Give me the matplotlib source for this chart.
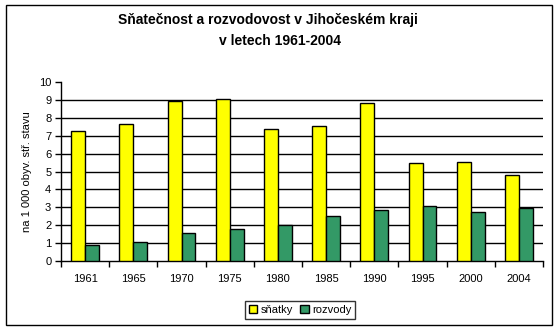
import matplotlib
matplotlib.use("Agg")
import matplotlib.pyplot as plt
from matplotlib.patches import Rectangle
import numpy as np

plt.rcParams["font.family"] = ["Liberation Sans", "DejaVu Sans"]

years = ["1961", "1965", "1970", "1975", "1980", "1985", "1990", "1995", "2000", "2004"]
snatky = [7.26, 7.65, 8.96, 9.05, 7.37, 7.54, 8.83, 5.47, 5.53, 4.80]
rozvody = [0.89, 1.06, 1.56, 1.79, 2.01, 2.51, 2.85, 3.07, 2.74, 2.98]

YELLOW = "#FFFF00"
GREEN = "#339966"

fig = plt.figure(figsize=(5.59, 3.31), dpi=100)
fig.patch.set_facecolor("white")

# rámeček kolem celého grafu
fig.patches.append(Rectangle((6 / 559, 1 - 325 / 331), 546 / 559, 320 / 331,
                             transform=fig.transFigure, fill=False,
                             edgecolor="black", linewidth=1.0))

ax = fig.add_axes([61 / 559, 1 - 261 / 331, 482 / 559, 179 / 331])
x = np.arange(len(years))
w = 0.29
ax.bar(x - w, snatky, width=w, align="edge", color=YELLOW,
       edgecolor="black", linewidth=1.0, label="sňatky", zorder=3)
ax.bar(x, rozvody, width=w, align="edge", color=GREEN,
       edgecolor="black", linewidth=1.0, label="rozvody", zorder=3)

ax.set_xlim(-0.5, len(years) - 0.5)
ax.set_ylim(0, 10)
ax.set_yticks(range(0, 11))
for v in range(1, 10):
    ax.axhline(v, color="black", linewidth=1.0, zorder=1)

ax.set_xticks(np.arange(-0.5, len(years), 1.0))
ax.set_xticklabels([])
ax.set_xticks(x, minor=True)
ax.set_xticklabels(years, minor=True, fontsize=8)
ax.tick_params(axis="x", which="minor", length=0, pad=9)
ax.tick_params(axis="x", which="major", length=4, width=1, direction="out")
ax.tick_params(axis="y", length=4, width=1, direction="out", labelsize=8, pad=3)

for s in ["top", "right"]:
    ax.spines[s].set_visible(False)
ax.spines["left"].set_linewidth(1.0)
ax.spines["bottom"].set_linewidth(1.0)

ax.set_ylabel("na 1 000 obyv. stř. stavu", fontsize=8, labelpad=5)

fig.text(268 / 559, 1 - 20 / 331, "Sňatečnost a rozvodovost v Jihočeském kraji",
         ha="center", va="center", fontsize=10, fontweight="bold")
fig.text(280 / 559, 1 - 41 / 331, "v letech 1961-2004",
         ha="center", va="center", fontsize=10, fontweight="bold")

leg = fig.legend(loc="center", bbox_to_anchor=(300 / 559, 1 - 310 / 331),
                 ncol=2, fontsize=8, frameon=True, fancybox=False,
                 edgecolor="black", handlelength=0.8, handleheight=0.8,
                 handletextpad=0.3, columnspacing=0.6, borderpad=0.35,
                 borderaxespad=0)
leg.get_frame().set_linewidth(1.0)

fig.savefig("out.png", dpi=100, facecolor="white")
